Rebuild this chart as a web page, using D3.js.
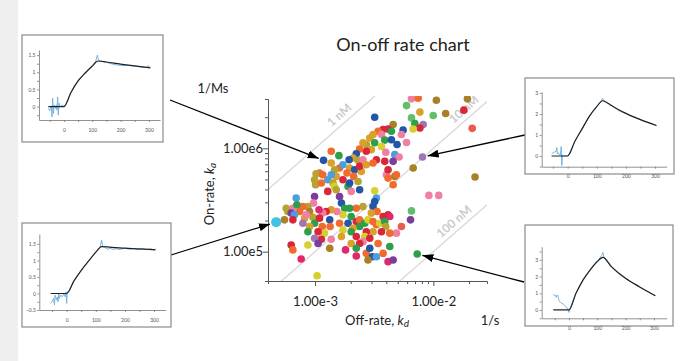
<!DOCTYPE html>
<html>
<head>
<meta charset="utf-8">
<script src="https://cdn.jsdelivr.net/npm/d3@7"></script>
<style>
  body { margin: 0; background: #fff; }
  svg { display: block; font-family: Lato, "Open Sans", sans-serif; }
</style>
</head>
<body>
<svg id="chart" width="688" height="361"></svg>
<script>
// ---- data ----
// off-rate kd (1/s), on-rate ka (1/Ms), sample group (colour)
const offRate = [
  5.93e-3, 6.53e-3, 7.44e-3, 1.06e-2, 1.94e-2, 7.69e-3, 1.27e-2, 9.97e-3, 1.81e-2, 3.19e-3,
  6.53e-3, 6.97e-3, 8.20e-3, 7.69e-3, 2.13e-2, 4.57e-3, 4.14e-3, 5.55e-3, 4.42e-3, 3.76e-3,
  3.41e-3, 3.09e-3, 6.75e-3, 2.90e-3, 3.64e-3, 3.88e-3, 3.19e-3, 2.71e-3, 2.54e-3, 2.99e-3,
  4.42e-3, 4.93e-3, 5.93e-3, 5.37e-3, 3.64e-3, 3.30e-3, 2.71e-3, 2.38e-3, 2.23e-3, 2.09e-3,
  2.31e-3, 1.94e-3, 2.54e-3, 1.37e-3, 1.59e-3, 1.18e-3, 3.96e-3, 4.72e-3, 5.13e-3, 4.57e-3,
  6.75e-3, 8.09e-3, 2.25e-2, 9.16e-3, 1.11e-2, 1.61e-3, 1.46e-3, 1.51e-3, 1.96e-3, 1.86e-3,
  2.16e-3, 2.46e-3, 2.12e-3, 2.31e-3, 1.72e-3, 1.28e-3, 1.42e-3, 1.09e-3, 1.02e-3, 1.16e-3,
  1.37e-3, 1.01e-3, 1.13e-3, 1.28e-3, 1.46e-3, 1.51e-3, 1.90e-3, 2.02e-3, 2.38e-3, 3.19e-3,
  4.01e-3, 4.14e-3, 4.72e-3, 4.87e-3, 4.57e-3, 3.30e-3, 3.19e-3, 3.09e-3, 3.34e-3, 2.99e-3,
  2.54e-3, 2.23e-3, 1.96e-3, 1.67e-3, 1.78e-3, 1.72e-3, 1.53e-3, 1.37e-3, 1.24e-3, 1.16e-3,
  1.08e-3, 9.90e-4, 9.71e-4, 8.70e-4, 7.89e-4, 8.98e-4, 7.39e-4, 6.49e-4, 6.92e-4, 5.70e-4,
  5.88e-4, 6.28e-4, 6.70e-4, 7.02e-4, 8.15e-4, 9.59e-4, 9.90e-4, 1.09e-3, 1.15e-3, 1.33e-3,
  1.34e-3, 1.20e-3, 1.06e-3, 8.98e-4, 8.70e-4, 7.89e-4, 6.49e-4, 5.51e-4, 4.69e-4, 1.61e-3,
  1.90e-3, 2.02e-3, 2.23e-3, 2.38e-3, 2.63e-3, 2.80e-3, 3.09e-3, 3.30e-3, 3.52e-3, 3.76e-3,
  4.14e-3, 4.28e-3, 3.88e-3, 3.96e-3, 6.53e-3, 6.41e-3, 5.37e-3, 4.87e-3, 4.28e-3, 3.64e-3,
  3.09e-3, 2.71e-3, 2.38e-3, 2.09e-3, 2.02e-3, 1.72e-3, 1.67e-3, 2.23e-3, 2.63e-3, 2.90e-3,
  3.41e-3, 2.54e-3, 2.38e-3, 2.02e-3, 1.37e-3, 1.13e-3, 9.90e-4, 6.28e-4, 6.49e-4, 8.70e-4,
  1.06e-3, 1.33e-3, 1.81e-3, 2.23e-3, 2.23e-3, 2.71e-3, 2.90e-3, 3.05e-3, 3.30e-3, 2.80e-3,
  3.76e-3, 4.14e-3, 4.57e-3, 4.28e-3, 7.30e-3, 7.63e-4, 1.04e-3, 1.72e-3, 2.38e-3, 2.71e-3,
  3.09e-3, 1.37e-3, 3.88e-3, 4.14e-3, 1.96e-3, 9.90e-4, 1.61e-3, 8.42e-4
];
const onRate = [
  2.59e6, 3.01e6, 3.05e6, 2.92e6, 3.01e6, 2.24e6, 2.17e6, 2.08e6, 2.34e6, 2.00e6,
  1.97e6, 1.74e6, 1.70e6, 1.57e6, 1.56e6, 1.70e6, 1.54e6, 1.50e6, 1.46e6, 1.52e6,
  1.46e6, 1.36e6, 1.54e6, 1.26e6, 1.36e6, 1.20e6, 1.13e6, 1.09e6, 1.13e6, 9.70e5,
  1.21e6, 1.09e6, 1.14e6, 1.36e6, 1.04e6, 7.76e5, 9.35e5, 9.85e5, 8.87e5, 8.06e5,
  7.65e5, 7.76e5, 7.76e5, 9.35e5, 8.49e5, 7.65e5, 9.15e5, 8.68e5, 8.24e5, 7.48e5,
  6.44e5, 8.24e5, 5.27e5, 3.50e5, 3.50e5, 6.44e5, 6.21e5, 5.35e5, 6.44e5, 5.76e5,
  6.21e5, 5.98e5, 5.35e5, 4.78e5, 4.96e5, 4.96e5, 4.61e5, 5.76e5, 5.68e5, 5.55e5,
  5.55e5, 4.44e5, 4.61e5, 3.83e5, 4.28e5, 3.97e5, 4.28e5, 3.83e5, 3.97e5, 3.88e5,
  5.55e5, 6.21e5, 5.35e5, 5.55e5, 4.44e5, 3.30e5, 3.06e5, 2.73e5, 2.45e5, 2.36e5,
  2.73e5, 2.63e5, 2.63e5, 2.95e5, 2.63e5, 2.27e5, 2.45e5, 2.54e5, 2.45e5, 2.36e5,
  2.54e5, 3.42e5, 2.95e5, 2.73e5, 2.73e5, 2.45e5, 2.45e5, 2.63e5, 3.30e5, 2.63e5,
  2.45e5, 2.36e5, 2.27e5, 2.84e5, 2.11e5, 2.15e5, 1.88e5, 2.11e5, 1.75e5, 2.03e5,
  1.75e5, 1.51e5, 1.56e5, 1.75e5, 1.56e5, 1.88e5, 2.03e5, 2.03e5, 1.93e5, 1.88e5,
  1.88e5, 2.19e5, 1.96e5, 2.03e5, 1.88e5, 2.03e5, 1.96e5, 1.82e5, 1.88e5, 2.19e5,
  2.27e5, 2.19e5, 1.96e5, 1.75e5, 2.48e5, 2.03e5, 1.75e5, 1.51e5, 1.51e5, 1.56e5,
  1.56e5, 1.56e5, 1.75e5, 1.68e5, 1.56e5, 1.62e5, 1.40e5, 1.40e5, 1.40e5, 1.35e5,
  1.20e5, 1.25e5, 1.20e5, 1.20e5, 1.32e5, 1.32e5, 1.35e5, 1.16e5, 1.04e5, 1.16e5,
  1.20e5, 1.08e5, 1.04e5, 1.08e5, 9.08e4, 9.64e4, 1.08e5, 8.94e4, 8.94e4, 8.30e4,
  9.64e4, 8.00e4, 8.30e4, 1.12e5, 9.49e4, 8.49e4, 5.85e4, 6.94e5, 6.69e5, 6.94e5,
  7.20e5, 7.20e5, 7.48e5, 5.15e5, 4.61e5, 4.96e5, 3.42e5, 2.27e5
];
const sampleGroup = [
  14, 4, 3, 7, 7, 6, 7, 14, 0, 1,
  14, 2, 9, 0, 15, 7, 0, 1, 2, 0,
  3, 6, 10, 6, 4, 2, 2, 5, 6, 6,
  1, 1, 4, 4, 10, 0, 0, 3, 1, 6,
  5, 1, 4, 3, 2, 1, 4, 11, 4, 8,
  7, 9, 7, 4, 4, 3, 5, 6, 6, 3,
  1, 6, 3, 5, 0, 11, 5, 3, 5, 3,
  11, 5, 3, 0, 10, 5, 2, 4, 1, 10,
  4, 0, 7, 3, 3, 11, 1, 1, 3, 6,
  5, 3, 2, 1, 2, 10, 4, 6, 0, 4,
  12, 8, 4, 5, 3, 7, 3, 4, 11, 5,
  5, 8, 11, 2, 6, 5, 2, 0, 3, 1,
  3, 10, 0, 6, 2, 9, 0, 7, 13, 3,
  1, 2, 0, 3, 2, 10, 3, 3, 10, 0,
  0, 12, 2, 5, 14, 8, 15, 4, 3, 0,
  6, 0, 2, 6, 2, 10, 6, 0, 10, 0,
  3, 4, 0, 6, 4, 0, 9, 0, 3, 10,
  8, 7, 12, 2, 12, 3, 1, 1, 11, 7,
  3, 12, 8, 2, 2, 12, 10, 11, 0, 6,
  3, 6, 0, 3, 1, 5, 8, 4
];
// samples shown in the sensorgram insets (index into the arrays above)
const pickedSample = [45, 128, 51, 184];

// iso-affinity lines KD (M)
const isoKD = [1e-9, 1e-8, 1e-7];
const isoLabels = ["1 nM", "10 nM", "100 nM"];

// axis ticks
const xTickValues = [1e-3, 2e-3, 3e-3, 4e-3, 5e-3, 6e-3, 7e-3, 8e-3, 9e-3, 1e-2, 2e-2];
const yTickValues = [1e5, 2e5, 3e5, 4e5, 5e5, 6e5, 7e5, 8e5, 9e5, 1e6, 2e6, 3e6];

// sensorgrams: time (s), response
const fitTime = [-55, 0, 25, 50, 75, 100, 120, 150, 200, 250, 305];
const fit1 = [0, 0, 0.42, 0.75, 0.98, 1.18, 1.33, 1.30, 1.24, 1.19, 1.13];
const fit2 = [0, 0, 0.38, 0.70, 0.98, 1.25, 1.42, 1.40, 1.37, 1.35, 1.32];
const fit3 = [0, 0, 0.70, 1.30, 1.90, 2.35, 2.63, 2.40, 2.03, 1.73, 1.45];
const fit4 = [0, 0, 1.00, 1.80, 2.40, 2.90, 3.15, 2.60, 1.90, 1.38, 0.85];

const raw1Time = [-55, -50, -45, -42, -40, -37, -35, -30, -27, -25, -22, -20, -17, -15, -10, -5, 0, 10, 25, 50, 75, 100, 112, 118, 122, 130, 150, 175, 200, 225, 250, 275, 290, 297, 302, 305];
const raw1 = [-0.05, -0.12, 0.02, -0.3, 0.25, -0.2, 0.05, -0.05, 0.05, -0.1, 0.28, -0.25, 0.1, 0.0, 0.02, 0.05, 0.0, 0.12, 0.4, 0.76, 0.98, 1.2, 1.32, 1.5, 1.36, 1.33, 1.29, 1.23, 1.2, 1.2, 1.18, 1.15, 1.14, 1.2, 1.14, 1.17];
const raw2Time = [-55, -50, -45, -42, -40, -35, -32, -30, -27, -25, -20, -15, -10, -5, -2, 0, 2, 5, 10, 25, 50, 75, 100, 115, 120, 123, 130, 140, 150, 160, 170, 180, 190, 200, 215, 230, 245, 260, 275, 290, 300, 305];
const raw2 = [-0.3, -0.25, -0.15, -0.35, -0.05, -0.2, -0.1, -0.25, 0.0, -0.15, -0.05, -0.1, 0.0, -0.1, 0.05, -0.3, 0.05, 0.05, 0.1, 0.38, 0.7, 0.98, 1.25, 1.4, 1.62, 1.45, 1.4, 1.34, 1.37, 1.33, 1.36, 1.33, 1.35, 1.37, 1.34, 1.36, 1.33, 1.35, 1.33, 1.35, 1.31, 1.36];
const raw3Time = [-55, -50, -45, -40, -37, -35, -32, -30, -25, -22, -20, -18, -15, -10, -5, 0, 5, 25, 50, 75, 100, 115, 120, 125, 150, 180, 200, 250, 300, 305];
const raw3 = [0.1, 0.15, 0.2, 0.2, 0.4, 0.1, 0.15, 0.1, 0.05, 0.45, -0.45, 0.05, 0.0, 0.0, 0.02, 0.0, 0.1, 0.7, 1.3, 1.9, 2.37, 2.62, 2.75, 2.62, 2.42, 2.12, 2.02, 1.72, 1.46, 1.44];
const raw4Time = [-55, -50, -47, -45, -40, -37, -35, -30, -20, -10, -2, 0, 3, 10, 25, 50, 75, 100, 115, 120, 124, 130, 150, 180, 200, 250, 300, 305];
const raw4 = [0.95, 0.85, 0.9, 0.75, 0.9, 0.75, 0.55, 0.45, 0.35, 0.2, 0.0, -0.15, 0.05, 0.35, 1.0, 1.78, 2.38, 2.9, 3.25, 3.45, 3.15, 3.0, 2.55, 2.1, 1.88, 1.36, 0.9, 0.87];

// ---- layout ----
const palette = ["#d62839", "#2257a8", "#2e9e4a", "#f06b2d", "#f07fa5", "#b7a332", "#d9a129", "#a98028",
                 "#7a3d9c", "#a274b5", "#d6cf2e", "#4a9fdc", "#e0276a", "#3fc2e8", "#5fbf6b", "#ec5a52"];
const plot = { left: 268, right: 487, top: 99, bottom: 281 };
const textColor = "#222";

const svg = d3.select("#chart");
svg.append("rect").attr("width", 688).attr("height", 361).attr("fill", "#fff");
svg.append("rect").attr("width", 18).attr("height", 361).attr("fill", "#efefef");

const x = d3.scaleLog().domain([4e-4, 2.84e-2]).range([plot.left, plot.right]);
const y = d3.scaleLog().domain([5.2e4, 3e6]).range([plot.bottom, plot.top]);

const defs = svg.append("defs");
defs.append("clipPath").attr("id", "plotClip")
  .append("rect")
  .attr("x", plot.left).attr("y", plot.top - 3)
  .attr("width", plot.right - plot.left).attr("height", plot.bottom - plot.top + 3);
defs.append("marker")
  .attr("id", "arrow").attr("viewBox", "0 0 11 8")
  .attr("refX", 11).attr("refY", 4)
  .attr("markerWidth", 11).attr("markerHeight", 8)
  .attr("markerUnits", "userSpaceOnUse").attr("orient", "auto")
  .append("path").attr("d", "M0,0L11,4L0,8Z").attr("fill", "#000");

// title
svg.append("text")
  .attr("x", 403).attr("y", 51)
  .attr("text-anchor", "middle")
  .attr("font-size", 18).attr("fill", textColor)
  .text("On-off rate chart");

// iso-affinity lines
const isoG = svg.append("g").attr("clip-path", "url(#plotClip)");
const labelKd = [1.8e-3, 2.04e-2, 1.68e-2];
isoKD.forEach((KD, i) => {
  const [k0, k1] = x.domain();
  isoG.append("line")
    .attr("x1", x(k0)).attr("y1", y(k0 / KD))
    .attr("x2", x(k1)).attr("y2", y(k1 / KD))
    .attr("stroke", "#dadada").attr("stroke-width", 1.4);
  const ang = Math.atan2(y(k1 / KD) - y(k0 / KD), x(k1) - x(k0)) * 180 / Math.PI;
  isoG.append("text")
    .attr("transform", `translate(${x(labelKd[i])},${y(labelKd[i] / KD)}) rotate(${ang})`)
    .attr("dy", -5)
    .attr("text-anchor", "middle")
    .attr("font-size", 12).attr("font-weight", "bold")
    .attr("fill", "#cbcbcb")
    .text(isoLabels[i]);
});

// dots
const dots = offRate.map((kd, i) => ({ kd: kd, ka: onRate[i], g: sampleGroup[i], i: i }));
svg.append("g")
  .attr("clip-path", "url(#plotClip)")
  .selectAll("circle")
  .data(dots)
  .join("circle")
  .attr("cx", d => x(d.kd))
  .attr("cy", d => y(d.ka))
  .attr("r", d => d.i === pickedSample[1] ? 5 : 3.8)
  .attr("fill", d => palette[d.g]);

// axes
const isMajor = d => Math.abs(Math.log10(d) - Math.round(Math.log10(d))) < 1e-6;
const sci = d => d3.format(".2e")(d).replace("+", "");

const xAxisG = svg.append("g")
  .attr("transform", `translate(0,${plot.bottom})`)
  .call(d3.axisBottom(x).tickValues(xTickValues).tickSizeOuter(0).tickSize(3)
    .tickFormat(d => isMajor(d) ? sci(d) : ""));
xAxisG.select(".domain").attr("stroke", "#555");
xAxisG.selectAll(".tick line").attr("stroke", "#555").attr("y2", d => isMajor(d) ? 5 : 3);
xAxisG.selectAll(".tick text").attr("y", 16).attr("font-size", 13)
  .attr("fill", textColor).attr("font-family", "Lato, 'Open Sans', sans-serif");

const yAxisG = svg.append("g")
  .attr("transform", `translate(${plot.left},0)`)
  .call(d3.axisLeft(y).tickValues(yTickValues).tickSizeOuter(0).tickSize(3)
    .tickFormat(d => isMajor(d) ? sci(d) : ""));
yAxisG.select(".domain").attr("stroke", "#555");
yAxisG.selectAll(".tick line").attr("stroke", "#555").attr("x2", d => isMajor(d) ? -5 : -3);
yAxisG.selectAll(".tick text").attr("x", -5).attr("font-size", 13)
  .attr("fill", textColor).attr("font-family", "Lato, 'Open Sans', sans-serif");

// axis titles
const xTitle = svg.append("text")
  .attr("x", 377).attr("y", 324.5)
  .attr("text-anchor", "middle").attr("font-size", 13).attr("fill", textColor);
xTitle.append("tspan").text("Off-rate, ");
xTitle.append("tspan").attr("font-style", "italic").text("k");
xTitle.append("tspan").attr("font-style", "italic").attr("font-size", 10).attr("dy", 2).text("d");

const yTitle = svg.append("text")
  .attr("transform", "translate(214,194) rotate(-90)")
  .attr("text-anchor", "middle").attr("font-size", 13).attr("fill", textColor);
yTitle.append("tspan").text("On-rate, ");
yTitle.append("tspan").attr("font-style", "italic").text("k");
yTitle.append("tspan").attr("font-style", "italic").attr("font-size", 10).attr("dy", 2).text("a");

svg.append("text").attr("x", 213).attr("y", 92.5).attr("text-anchor", "middle")
  .attr("font-size", 13).attr("fill", textColor).text("1/Ms");
svg.append("text").attr("x", 490).attr("y", 324.5).attr("text-anchor", "middle")
  .attr("font-size", 13).attr("fill", textColor).text("1/s");

// ---- sensorgram insets ----
const insets = [
  { box: [22, 35, 141, 107], left: 39, right: 160, top: 50, bottom: 120,
    xDomain: [-88, 339], yDomain: [-0.39, 1.65], yStep: 0.5, yMinor: 0.25,
    fit: fit1, rawT: raw1Time, raw: raw1, anchor: [170, 100] },
  { box: [22, 223, 149, 104], left: 39.3, right: 165.7, top: 234, bottom: 310,
    xDomain: [-94, 340], yDomain: [-0.5, 1.8], yStep: 0.5, yMinor: 0.25,
    fit: fit2, rawT: raw2Time, raw: raw2, anchor: [171, 255] },
  { box: [525, 78, 149, 96], left: 541.7, right: 666.7, top: 91.7, bottom: 166.7,
    xDomain: [-89, 340], yDomain: [-0.51, 3.06], yStep: 1, yMinor: 0.5,
    fit: fit3, rawT: raw3Time, raw: raw3, anchor: [525, 135] },
  { box: [525, 225, 148, 101], left: 541.7, right: 666.7, top: 246.7, bottom: 318.3,
    xDomain: [-96, 345], yDomain: [-0.5, 3.79], yStep: 1, yMinor: 0.5,
    fit: fit4, rawT: raw4Time, raw: raw4, anchor: [524, 282] }
];

// arrows from insets to their samples
insets.forEach((c, k) => {
  const d = dots[pickedSample[k]];
  const tx = x(d.kd), ty = y(d.ka);
  const dx = tx - c.anchor[0], dy = ty - c.anchor[1];
  const len = Math.hypot(dx, dy);
  const gap = (k === 1 ? 5 : 3.8) + 1.5;
  svg.append("line")
    .attr("x1", c.anchor[0]).attr("y1", c.anchor[1])
    .attr("x2", tx - dx / len * gap).attr("y2", ty - dy / len * gap)
    .attr("stroke", "#000").attr("stroke-width", 1.3)
    .attr("marker-end", "url(#arrow)");
});

insets.forEach(c => {
  const g = svg.append("g");
  g.append("rect")
    .attr("x", c.box[0]).attr("y", c.box[1])
    .attr("width", c.box[2]).attr("height", c.box[3])
    .attr("fill", "#fff").attr("stroke", "#8a8a8a").attr("stroke-width", 1.2);

  const sx = d3.scaleLinear().domain(c.xDomain).range([c.left, c.right]);
  const sy = d3.scaleLinear().domain(c.yDomain).range([c.bottom, c.top]);

  const xt = d3.range(-50, c.xDomain[1], 50);
  const gx = g.append("g").attr("transform", `translate(0,${c.bottom})`)
    .call(d3.axisBottom(sx).tickValues(xt).tickSize(2).tickSizeOuter(0).tickPadding(6)
      .tickFormat(d => d % 100 === 0 ? d : ""));
  const yStart = Math.ceil(c.yDomain[0] / c.yMinor - 1e-6) * c.yMinor;
  const yt = d3.range(yStart, c.yDomain[1] - 0.05, c.yMinor).map(v => Math.round(v * 100) / 100);
  const gy = g.append("g").attr("transform", `translate(${c.left},0)`)
    .call(d3.axisLeft(sy).tickValues(yt).tickSize(2).tickSizeOuter(0).tickPadding(1.5)
      .tickFormat(d => Math.abs(d / c.yStep - Math.round(d / c.yStep)) < 1e-6 ? d3.format("~g")(d) : ""));
  [gx, gy].forEach(a => {
    a.select(".domain").attr("stroke", "#777").attr("stroke-width", 0.8);
    a.selectAll(".tick line").attr("stroke", "#777").attr("stroke-width", 0.8);
    a.selectAll(".tick text").attr("font-size", 5).attr("fill", "#555")
      .attr("font-family", "Lato, 'Open Sans', sans-serif");
  });

  g.append("path")
    .datum(c.rawT.map((t, i) => [t, c.raw[i]]))
    .attr("fill", "none").attr("stroke", "#6aaee0").attr("stroke-width", 0.9)
    .attr("d", d3.line().x(d => sx(d[0])).y(d => sy(d[1])));
  g.append("path")
    .datum(fitTime.map((t, i) => [t, c.fit[i]]))
    .attr("fill", "none").attr("stroke", "#222").attr("stroke-width", 1.2)
    .attr("d", d3.line().curve(d3.curveMonotoneX).x(d => sx(d[0])).y(d => sy(d[1])));
});
</script>
</body>
</html>
